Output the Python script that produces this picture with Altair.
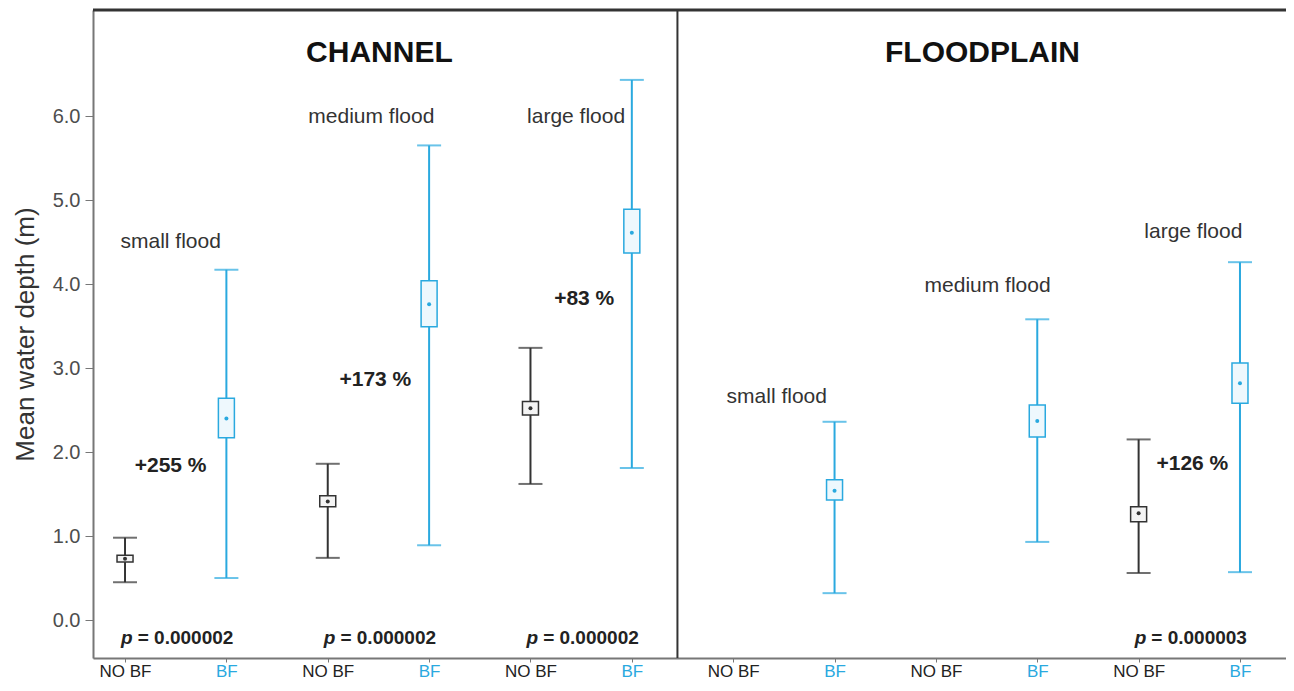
import altair as alt
import pandas as pd

# ---- data ----
positions = [1, 2, 3, 4, 5, 6, 7, 8, 9, 10, 11, 12]
treatment = ["NO BF", "BF", "NO BF", "BF", "NO BF", "BF",
             "NO BF", "BF", "NO BF", "BF", "NO BF", "BF"]
mean_depth = [0.73, 2.40, 1.41, 3.76, 2.52, 4.61, None, 1.54, None, 2.37, 1.27, 2.82]
box_low    = [0.69, 2.17, 1.35, 3.49, 2.44, 4.37, None, 1.43, None, 2.18, 1.17, 2.58]
box_high   = [0.77, 2.64, 1.48, 4.04, 2.60, 4.89, None, 1.67, None, 2.56, 1.35, 3.06]
whisk_low  = [0.45, 0.50, 0.74, 0.89, 1.62, 1.81, None, 0.32, None, 0.93, 0.56, 0.57]
whisk_high = [0.98, 4.17, 1.86, 5.65, 3.24, 6.43, None, 2.36, None, 3.58, 2.15, 4.26]

flood_text = ["small flood", "medium flood", "large flood",
              "small flood", "medium flood", "large flood"]
flood_x = [1.45, 3.43, 5.45, 7.43, 9.51, 11.54]
flood_y = [4.50, 5.99, 5.99, 2.65, 3.98, 4.62]

pct_text = ["+255 %", "+173 %", "+83 %", "+126 %"]
pct_x = [1.45, 3.47, 5.53, 11.53]
pct_y = [1.83, 2.86, 3.82, 1.86]

p_text = ["= 0.000002", "= 0.000002", "= 0.000002", "= 0.000003"]
p_x = [1.5, 3.5, 5.5, 11.5]
p_y = [-0.21, -0.21, -0.21, -0.21]

panel_text = ["CHANNEL", "FLOODPLAIN"]
panel_x = [3.51, 9.46]
panel_y = [6.75, 6.75]

divider_x = [6.45]

# ---- tables ----
df = pd.DataFrame({
    "pos": positions, "treat": treatment, "mean": mean_depth,
    "blo": box_low, "bhi": box_high, "wlo": whisk_low, "whi": whisk_high,
}).dropna()
df_flood = pd.DataFrame({"x": flood_x, "y": flood_y, "t": flood_text})
df_pct = pd.DataFrame({"x": pct_x, "y": pct_y, "t": pct_text})
df_p = pd.DataFrame({"x": p_x, "y": p_y, "t": p_text})
df_panel = pd.DataFrame({"x": panel_x, "y": panel_y, "t": panel_text})
df_div = pd.DataFrame({"x": divider_x})

FONT = "Liberation Sans"
CYAN = "#2aa9df"
DARK = "#333333"
W, H = 1193, 648

xscale = alt.Scale(domain=[0.684, 12.454], nice=False, zero=False)
yscale = alt.Scale(domain=[-0.452, 7.262], nice=False, zero=False)
color = alt.Color("treat:N", scale=alt.Scale(domain=["NO BF", "BF"], range=[DARK, CYAN]), legend=None)

x_axis = alt.Axis(
    values=positions, labelExpr="datum.value % 2 == 1 ? 'NO BF' : 'BF'",
    title=None, grid=False, tickSize=4, tickColor="#777", domainColor="#777", domainWidth=2,
    labelFont=FONT, labelFontSize=17, labelPadding=1,
    labelColor={"condition": {"test": "datum.value % 2 == 0", "value": CYAN}, "value": "#222222"},
)
y_axis = alt.Axis(
    values=[0, 1, 2, 3, 4, 5, 6], format=".1f", title="Mean water depth (m)",
    grid=False, tickSize=8, tickColor="#777", domainColor="#777", domainWidth=2,
    labelFont=FONT, labelFontSize=20, labelColor="#4d4d4d", labelPadding=5,
    titleFont=FONT, titleFontSize=26, titleFontWeight="normal",
    titleColor="#333", titlePadding=14,
)

base = alt.Chart(df)

whiskers = base.mark_rule(strokeWidth=2).encode(
    x=alt.X("pos:Q", scale=xscale, axis=x_axis),
    y=alt.Y("wlo:Q", scale=yscale, axis=y_axis),
    y2="whi:Q",
    color=color,
)
cap_hi = base.mark_tick(orient="horizontal", size=24, thickness=2).encode(
    x="pos:Q", y="whi:Q", color=color)
cap_lo = base.mark_tick(orient="horizontal", size=24, thickness=2).encode(
    x="pos:Q", y="wlo:Q", color=color)
boxes = base.mark_rect(xOffset=-8, x2Offset=8, strokeWidth=1.5).encode(
    x="pos:Q", x2="pos:Q", y="blo:Q", y2="bhi:Q",
    stroke=alt.Stroke("treat:N", scale=alt.Scale(domain=["NO BF", "BF"], range=[DARK, CYAN]), legend=None),
    fill=alt.Fill("treat:N", scale=alt.Scale(domain=["NO BF", "BF"], range=["#f4f4f4", "#eef8fd"]), legend=None),
)
dots = base.mark_point(filled=True, size=16, opacity=1).encode(
    x="pos:Q", y="mean:Q", color=color)

divider = alt.Chart(df_div).mark_rule(color=DARK, strokeWidth=2).encode(x="x:Q")
top_border = alt.Chart(df_div).mark_rule(color=DARK, strokeWidth=3).encode(
    x=alt.value(0), x2=alt.value(W), y=alt.value(0))

flood = alt.Chart(df_flood).mark_text(font=FONT, fontSize=21, color="#333").encode(
    x="x:Q", y="y:Q", text="t:N")
pct = alt.Chart(df_pct).mark_text(font=FONT, fontSize=21, fontWeight="bold", color="#222").encode(
    x="x:Q", y="y:Q", text="t:N")
p_it = alt.Chart(df_p).mark_text(font=FONT, fontSize=19, fontWeight="bold", fontStyle="italic",
                                 color="#222", align="right", dx=-43).encode(
    x="x:Q", y="y:Q", text=alt.value("p"))
p_rest = alt.Chart(df_p).mark_text(font=FONT, fontSize=19, fontWeight="bold",
                                   color="#222", align="left", dx=-38).encode(
    x="x:Q", y="y:Q", text="t:N")
panel = alt.Chart(df_panel).mark_text(font=FONT, fontSize=30, fontWeight="bold", color="#111").encode(
    x="x:Q", y="y:Q", text="t:N")

chart = alt.layer(
    whiskers, cap_hi, cap_lo, boxes, dots, divider, top_border,
    flood, pct, p_it, p_rest, panel,
).properties(
    width=W, height=H,
    autosize=alt.AutoSizeParams(type="none"),
    padding={"left": 85, "top": 2, "right": 0, "bottom": 25},
).configure_view(stroke=None).configure(background="white")

chart.save("out.html", embed_options={"renderer": "svg", "actions": False})
